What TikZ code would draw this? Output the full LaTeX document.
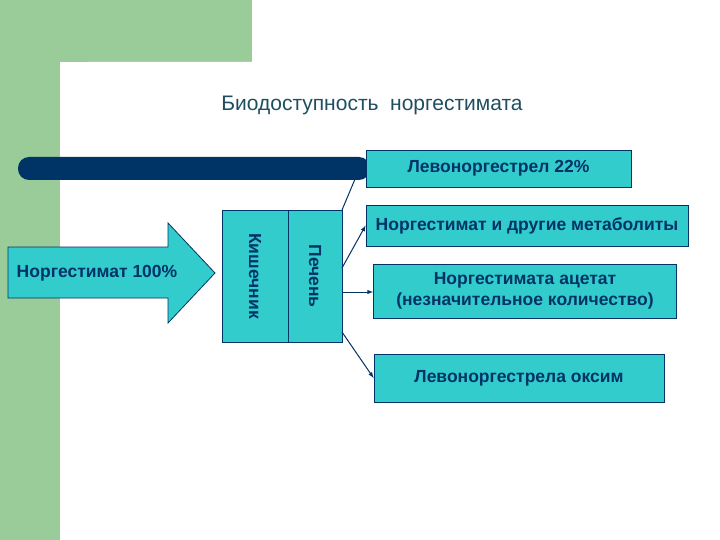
\documentclass[tikz,border=0pt]{standalone}
\usepackage{fontspec}
\setmainfont{Liberation Sans}
\definecolor{grn}{HTML}{99CC99}
\definecolor{teal1}{HTML}{33CCCC}
\definecolor{navy}{HTML}{003366}
\definecolor{ttl}{HTML}{1F4F5F}
\begin{document}
\begin{tikzpicture}[x=1pt,y=-1pt,
  box/.style={draw=navy,fill=teal1,line width=0.8pt},
  lbl/.style={font=\bfseries\fontsize{17.5}{21}\selectfont,text=navy,align=center},
  con/.style={draw=navy,line width=1pt},
  arr/.style={con,-latex}]
\useasboundingbox (0,0) rectangle (720,540);
\fill[grn] (0,0) rectangle (252,62);
\fill[grn] (0,0) rectangle (60,540);
\fill[white] (60,540) [rounded corners=28pt] -- (60,62) [sharp corners] -- (720,62) -- (720,540) -- cycle;
\node[font=\fontsize{21}{24}\selectfont,text=ttl] (title) at (372,105) {Биодоступность\ \ норгестимата};
\fill[navy,rounded corners=11pt] (18,157) rectangle (370,180);
% arrow
\path[box] (8,247) -- (168,247) -- (168,223) -- (215,273) -- (168,323) -- (168,298) -- (8,298) -- cycle;
\node[lbl] (n100) at (97,273) {Норгестимат 100\%};
\draw[box] (222,210) rectangle (288,342);
\draw[box] (288,210) rectangle (342,342);
\node[lbl,rotate=-90] (kish) at (255,276) {Кишечник};
\node[lbl,rotate=-90] (pech) at (315,276) {Печень};
\coordinate (p1) at (342,210);
\coordinate (p2) at (342,268);
\coordinate (p3) at (342,292);
\coordinate (p4) at (342,332);
\node[box,lbl,minimum width=265,minimum height=37] (lev) at (498.5,168.5) {Левоноргестрел 22\%};
\node[box,lbl,minimum width=322,minimum height=41] (oth) at (527,225.5) {Норгестимат и другие метаболиты};
\node[box,lbl,minimum width=303,minimum height=54,inner sep=1pt] (ac) at (525,291) {Норгестимата ацетат\\(незначительное количество)};
\node[box,lbl,minimum width=290,minimum height=48] (ox) at (519,378) {Левоноргестрела оксим};
\draw[con] (p1) -- (358,172);
\draw[arr] (p2) -- (oth.west);
\draw[arr] (p3) -- (ac.west |- p3);
\draw[arr] (p4) -- (ox.west);
\end{tikzpicture}
\end{document}
